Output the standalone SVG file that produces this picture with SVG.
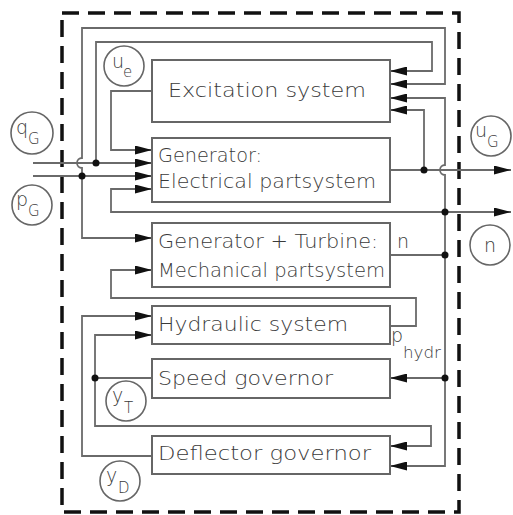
<svg xmlns="http://www.w3.org/2000/svg" width="513" height="515" viewBox="0 0 513 515">
<defs>
<marker id="ah" markerUnits="userSpaceOnUse" markerWidth="17" markerHeight="9" refX="17" refY="4.5" orient="auto">
<path d="M0,0 L17,4.5 L0,9 z" fill="#111"/>
</marker>
<style>
.box{fill:#fff;stroke:#666;stroke-width:2}
.ln{fill:none;stroke:#6a6a6a;stroke-width:1.8}
.ar{marker-end:url(#ah)}
.dot{fill:#111}
.lbl{font-family:"DejaVu Sans",sans-serif;font-weight:200;font-size:19px;fill:#3a3a3a}
.sub{font-size:15px}
.circ{fill:none;stroke:#666;stroke-width:1.6}
.frame{fill:none;stroke:#111;stroke-width:3.5;stroke-dasharray:17 9}
</style>
</defs>
<rect class="frame" x="62" y="13" width="397" height="499"/>
<g id="connectors">
<path class="ln ar" d="M82,176 V168 A5,5 0 0 1 82,158 V28 H445 V84 H390"/>
<path class="ln ar" d="M82,176 V238 H152"/>
<path class="ln ar" d="M33,176 H152"/>
<path class="ln ar" d="M33,163 H152"/>
<path class="ln ar" d="M96,163 V42 H432 V71 H390"/>
<path class="ln ar" d="M152,91 H111 V150 H152"/>
<path class="ln ar" d="M390,170 H511"/>
<path class="ln ar" d="M424,170 V110 H390"/>
<path class="ln ar" d="M390,255 H445 V175 A5,5 0 0 1 445,165 V98 H390"/>
<path class="ln ar" d="M445,212 H511"/>
<path class="ln ar" d="M445,212 H111 V189 H152"/>
<path class="ln ar" d="M445,255 V466 H390"/>
<path class="ln ar" d="M445,378 H390"/>
<path class="ln ar" d="M390,326 H416 V298 H111 V270 H152"/>
<path class="ln ar" d="M152,456 H82 V316 H152"/>
<path class="ln ar" d="M152,378 H95 V335 H152"/>
<path class="ln ar" d="M95,378 V426 H431 V446 H390"/>
<circle class="dot" cx="82" cy="176" r="3.5"/>
<circle class="dot" cx="96" cy="163" r="3.5"/>
<circle class="dot" cx="424" cy="170" r="3.5"/>
<circle class="dot" cx="445" cy="212" r="3.5"/>
<circle class="dot" cx="445" cy="255" r="3.5"/>
<circle class="dot" cx="445" cy="378" r="3.5"/>
<circle class="dot" cx="95" cy="378" r="3.5"/>
</g>
<g id="excitation">
<rect class="box" x="152" y="60" width="238" height="62"/>
<text class="lbl" x="168" y="97" textLength="198" lengthAdjust="spacingAndGlyphs">Excitation system</text>
</g>
<g id="generator-electrical">
<rect class="box" x="152" y="138" width="238" height="64"/>
<text class="lbl" x="158" y="162" textLength="104" lengthAdjust="spacingAndGlyphs">Generator:</text>
<text class="lbl" x="158" y="188" textLength="218" lengthAdjust="spacingAndGlyphs">Electrical partsystem</text>
</g>
<g id="generator-turbine">
<rect class="box" x="152" y="223" width="238" height="64"/>
<text class="lbl" x="158" y="248" textLength="220" lengthAdjust="spacingAndGlyphs">Generator + Turbine:</text>
<text class="lbl" x="158" y="277" textLength="227" lengthAdjust="spacingAndGlyphs">Mechanical partsystem</text>
<text class="lbl" x="397" y="248">n</text>
</g>
<g id="hydraulic">
<rect class="box" x="152" y="306" width="238" height="38"/>
<text class="lbl" x="158" y="331" textLength="190" lengthAdjust="spacingAndGlyphs">Hydraulic system</text>
<text class="lbl" x="391" y="342">p</text>
<text class="lbl sub" x="403" y="358" textLength="38" lengthAdjust="spacingAndGlyphs">hydr</text>
</g>
<g id="speed-governor">
<rect class="box" x="152" y="359" width="238" height="39"/>
<text class="lbl" x="158" y="385" textLength="175" lengthAdjust="spacingAndGlyphs">Speed governor</text>
</g>
<g id="deflector-governor">
<rect class="box" x="152" y="436" width="238" height="38"/>
<text class="lbl" x="158" y="460" textLength="213" lengthAdjust="spacingAndGlyphs">Deflector governor</text>
</g>
<g id="label-ue">
<circle class="circ" cx="124" cy="66" r="20"/>
<text class="lbl" x="112" y="68">u</text><text class="lbl sub" x="123" y="77">e</text>
</g>
<g id="label-qG">
<circle class="circ" cx="32" cy="133" r="21"/>
<text class="lbl" x="16" y="134">q</text><text class="lbl sub" x="28" y="144">G</text>
</g>
<g id="label-pG">
<circle class="circ" cx="32" cy="205" r="20"/>
<text class="lbl" x="16" y="206">p</text><text class="lbl sub" x="28" y="216">G</text>
</g>
<g id="label-uG">
<circle class="circ" cx="491" cy="136" r="20"/>
<text class="lbl" x="475" y="137">u</text><text class="lbl sub" x="487" y="147">G</text>
</g>
<g id="label-n">
<circle class="circ" cx="490" cy="245" r="20"/>
<text class="lbl" x="484" y="252">n</text>
</g>
<g id="label-yT">
<circle class="circ" cx="126" cy="401" r="20"/>
<text class="lbl" x="112" y="402">y</text><text class="lbl sub" x="124" y="413">T</text>
</g>
<g id="label-yD">
<circle class="circ" cx="120" cy="481" r="20"/>
<text class="lbl" x="106" y="482">y</text><text class="lbl sub" x="118" y="493">D</text>
</g>
</svg>
